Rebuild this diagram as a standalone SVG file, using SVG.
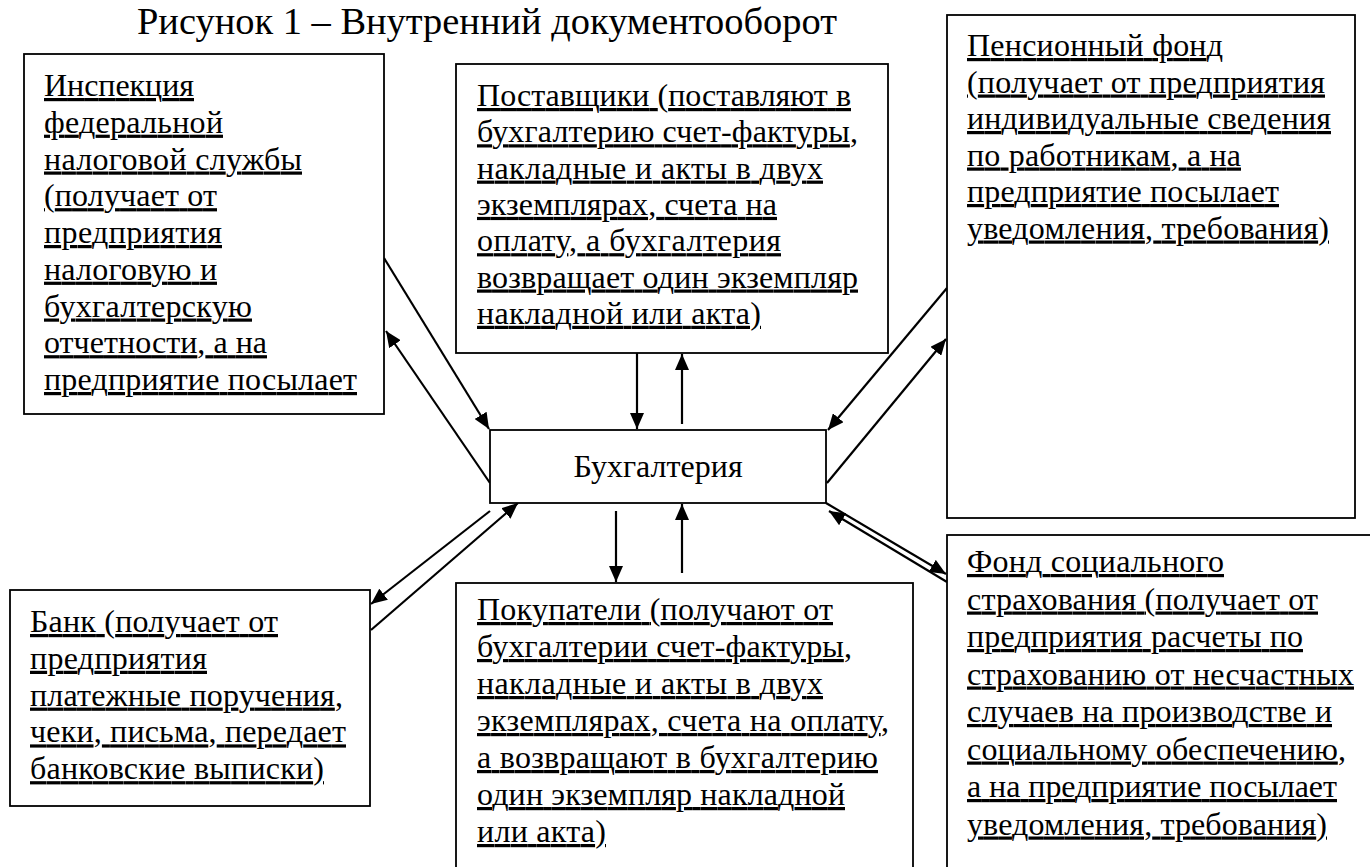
<svg xmlns="http://www.w3.org/2000/svg" width="1370" height="867" viewBox="0 0 1370 867">
<style>
.box{fill:#fff;stroke:#000;stroke-width:1.8}
.t{font-family:'Liberation Serif','Times New Roman',serif;font-size:32px;fill:#000;text-decoration:underline}
.c{font-family:'Liberation Serif','Times New Roman',serif;font-size:32px;fill:#000;text-anchor:middle}
.title{font-family:'Liberation Serif','Times New Roman',serif;font-size:38px;fill:#000;text-anchor:middle}
.ln{stroke:#000;stroke-width:2.2;fill:none;marker-end:url(#ah)}
</style>
<defs>
<marker id="ah" markerUnits="userSpaceOnUse" markerWidth="16" markerHeight="14" refX="16" refY="7" orient="auto">
<path d="M0,0 L16,7 L0,14 z" fill="#000"/>
</marker>
</defs>
<rect width="1370" height="867" fill="#fff"/>
<text class="title" x="487" y="34" textLength="700" lengthAdjust="spacingAndGlyphs">Рисунок 1 – Внутренний документооборот</text>

<g id="connectors">
<line class="ln" x1="637" y1="353" x2="637" y2="429"/>
<line class="ln" x1="682" y1="424" x2="682" y2="354"/>
<line class="ln" x1="616" y1="511" x2="616" y2="582"/>
<line class="ln" x1="682" y1="573" x2="682" y2="504"/>
<line class="ln" x1="384" y1="258" x2="489" y2="429"/>
<line class="ln" x1="490" y1="483" x2="386" y2="331"/>
<line class="ln" x1="947" y1="288" x2="828" y2="430"/>
<line class="ln" x1="827" y1="483" x2="946" y2="339"/>
<line class="ln" x1="826" y1="503" x2="946" y2="574"/>
<line class="ln" x1="947" y1="582" x2="829" y2="511"/>
<line class="ln" x1="490" y1="511" x2="371" y2="604"/>
<line class="ln" x1="371" y1="630" x2="518" y2="503"/>
</g>

<g id="inspection">
<rect class="box" x="24" y="54" width="360" height="360"/>
<text class="t" x="44" y="96" textLength="150">Инспекция</text>
<text class="t" x="44" y="132.7" textLength="179">федеральной</text>
<text class="t" x="44" y="169.5" textLength="258">налоговой службы</text>
<text class="t" x="44" y="206.2" textLength="173">(получает от</text>
<text class="t" x="44" y="243" textLength="178">предприятия</text>
<text class="t" x="44" y="279.7" textLength="173">налоговую и</text>
<text class="t" x="44" y="316.5" textLength="208">бухгалтерскую</text>
<text class="t" x="44" y="353.2" textLength="223">отчетности, а на</text>
<text class="t" x="44" y="390" textLength="313">предприятие посылает</text>
</g>

<g id="suppliers">
<rect class="box" x="456" y="64" width="432" height="289"/>
<text class="t" x="477" y="106" textLength="374">Поставщики (поставляют в</text>
<text class="t" x="477" y="142.3" textLength="381">бухгалтерию счет-фактуры,</text>
<text class="t" x="477" y="178.6" textLength="346">накладные и акты в двух</text>
<text class="t" x="477" y="214.9" textLength="300">экземплярах, счета на</text>
<text class="t" x="477" y="251.2" textLength="304">оплату, а бухгалтерия</text>
<text class="t" x="477" y="287.5" textLength="381">возвращает один экземпляр</text>
<text class="t" x="477" y="323.8" textLength="284">накладной или акта)</text>
</g>

<g id="pension">
<rect class="box" x="947" y="15" width="408" height="503"/>
<text class="t" x="967" y="56" textLength="256">Пенсионный фонд</text>
<text class="t" x="967" y="92.5" textLength="358">(получает от предприятия</text>
<text class="t" x="967" y="129" textLength="364">индивидуальные сведения</text>
<text class="t" x="967" y="165.5" textLength="274">по работникам, а на</text>
<text class="t" x="967" y="202" textLength="312">предприятие посылает</text>
<text class="t" x="967" y="238.5" textLength="362">уведомления, требования)</text>
</g>

<g id="accounting">
<rect class="box" x="490" y="430" width="336" height="73"/>
<text class="c" x="658" y="477">Бухгалтерия</text>
</g>

<g id="bank">
<rect class="box" x="10" y="590" width="360" height="216"/>
<text class="t" x="30" y="632" textLength="248">Банк (получает от</text>
<text class="t" x="30" y="668.8" textLength="177">предприятия</text>
<text class="t" x="30" y="705.6" textLength="313">платежные поручения,</text>
<text class="t" x="30" y="742.4" textLength="316">чеки, письма, передает</text>
<text class="t" x="30" y="779.2" textLength="294">банковские выписки)</text>
</g>

<g id="buyers">
<rect class="box" x="456" y="583" width="457" height="300"/>
<text class="t" x="477" y="620" textLength="356">Покупатели (получают от</text>
<text class="t" x="477" y="657" textLength="375">бухгалтерии счет-фактуры,</text>
<text class="t" x="477" y="694" textLength="346">накладные и акты в двух</text>
<text class="t" x="477" y="731" textLength="412">экземплярах, счета на оплату,</text>
<text class="t" x="477" y="768" textLength="401">а возвращают в бухгалтерию</text>
<text class="t" x="477" y="805" textLength="368">один экземпляр накладной</text>
<text class="t" x="477" y="842" textLength="129">или акта)</text>
</g>

<g id="fss">
<rect class="box" x="947" y="535" width="430" height="350"/>
<text class="t" x="967" y="572" textLength="257">Фонд социального</text>
<text class="t" x="967" y="609.5" textLength="351">страхования (получает от</text>
<text class="t" x="967" y="647" textLength="336">предприятия расчеты по</text>
<text class="t" x="967" y="684.5" textLength="387">страхованию от несчастных</text>
<text class="t" x="967" y="722" textLength="365">случаев на производстве и</text>
<text class="t" x="967" y="759.5" textLength="379">социальному обеспечению,</text>
<text class="t" x="967" y="797" textLength="370">а на предприятие посылает</text>
<text class="t" x="967" y="834.5" textLength="360">уведомления, требования)</text>
</g>
</svg>
